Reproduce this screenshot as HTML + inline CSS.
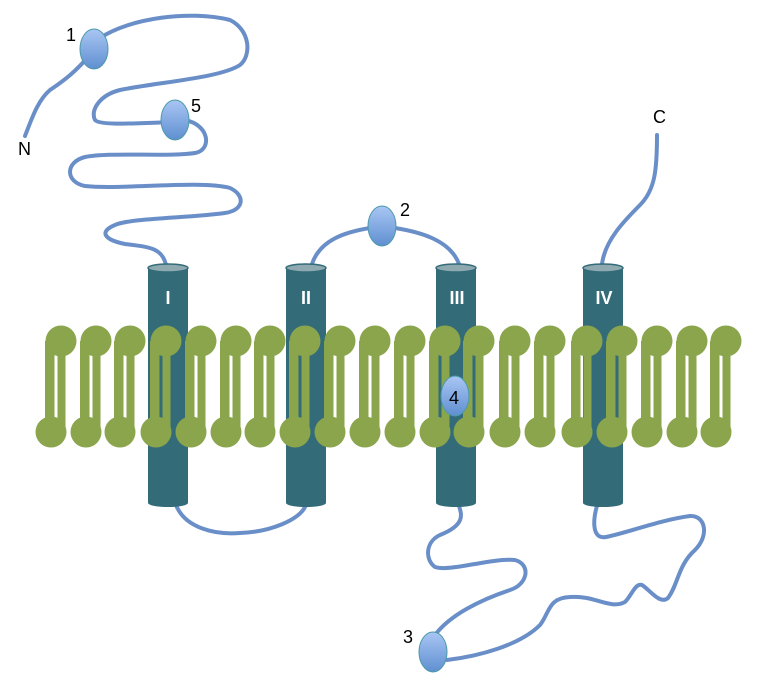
<!DOCTYPE html>
<html><head><meta charset="utf-8"><style>
body{margin:0;background:#fff}
svg{display:block}
text{font-family:"Liberation Sans",sans-serif}
</style></head><body>
<svg width="761" height="682" viewBox="0 0 761 682" xmlns="http://www.w3.org/2000/svg">
<defs>
<linearGradient id="ov" x1="0" y1="0" x2="0" y2="1">
<stop offset="0" stop-color="#a9c6f4"/><stop offset="1" stop-color="#5f8fd0"/>
</linearGradient>
</defs>
<g fill="none" stroke="#6a8fc8" stroke-width="4" stroke-linecap="round">
<path d="M25,136 C32,118 38,100 50,90 C65,80 75,72 90,55"/>
<path d="M100,38 C130,18 190,10 230,20 C250,30 252,55 240,65 C220,78 160,82 120,90 C100,95 90,110 95,120 C100,126 140,123 175,122"/>
<path d="M185,120 C210,125 212,150 195,153 C170,157 110,152 85,157 C65,162 65,182 85,186 C120,190 200,180 230,188 C245,195 245,210 225,213 C190,218 130,218 115,225 C98,232 105,240 125,244 C150,247 162,248 166,265"/>
<path d="M176,505 C185,528 215,535 240,533 C270,532 300,520 306,505"/>
<path d="M312,264 C320,240 345,232 370,228"/>
<path d="M395,228 C420,232 450,240 459,264"/>
<path d="M602,264 C605,240 625,220 640,205 C655,190 657,170 657,135"/>
<path d="M459,506 C462,515 465,525 440,535 C425,542 425,560 435,567 C450,572 490,558 515,560 C532,565 527,585 510,590 C480,600 450,615 435,635"/>
<path d="M447,660 C480,656 520,645 540,625 C550,612 548,598 570,597 C595,595 610,610 625,602 C632,595 635,583 642,585 C650,590 660,605 668,598 C678,585 678,565 695,550 C710,535 705,515 690,516 C660,520 630,532 606,537 C590,540 594,515 597,506"/>
</g>
<g>
<g fill="#336b78">
<rect x="148" y="268" width="40" height="235"/><ellipse cx="168" cy="503" rx="20" ry="4"/>
<rect x="286" y="268" width="40" height="235"/><ellipse cx="306" cy="503" rx="20" ry="4"/>
<rect x="436" y="268" width="40" height="235"/><ellipse cx="456" cy="503" rx="20" ry="4"/>
<rect x="583" y="268" width="40" height="235"/><ellipse cx="603" cy="503" rx="20" ry="4"/>
</g>
<g fill="#8fa9b0" stroke="#336b78" stroke-width="1.5">
<ellipse cx="168" cy="268" rx="20" ry="4"/>
<ellipse cx="306" cy="268" rx="20" ry="4"/>
<ellipse cx="456" cy="268" rx="20" ry="4"/>
<ellipse cx="603" cy="268" rx="20" ry="4"/>
</g>
<g fill="#fff" font-weight="bold" font-size="18" text-anchor="middle">
<text x="168" y="304">I</text><text x="306" y="304">II</text>
<text x="457" y="304">III</text><text x="604" y="304">IV</text>
</g>
</g>
<g fill="#8aa54c" id="lip">
<g id="l1"><circle cx="61" cy="341" r="15.5"/><circle cx="51" cy="432" r="15.5"/><rect x="45" y="341" width="9.5" height="91"/><rect x="57.5" y="341" width="8" height="91"/></g>
</g>
<g fill="#8aa54c">
<use href="#l1" x="35"/><use href="#l1" x="69"/><use href="#l1" x="105"/><use href="#l1" x="140"/>
<use href="#l1" x="175"/><use href="#l1" x="209"/><use href="#l1" x="244"/><use href="#l1" x="279"/>
<use href="#l1" x="314"/><use href="#l1" x="349"/><use href="#l1" x="384"/><use href="#l1" x="418"/>
<use href="#l1" x="454"/><use href="#l1" x="489"/><use href="#l1" x="526"/><use href="#l1" x="561"/>
<use href="#l1" x="596"/><use href="#l1" x="631"/><use href="#l1" x="665"/>
</g>
<g fill="url(#ov)" stroke="#4a9aa8" stroke-width="1">
<ellipse cx="94" cy="49" rx="14" ry="20"/>
<ellipse cx="175" cy="120" rx="14" ry="20"/>
<ellipse cx="382" cy="226" rx="14" ry="20"/>
<ellipse cx="455" cy="396" rx="14" ry="20"/>
<ellipse cx="433" cy="652" rx="14" ry="20"/>
</g>
<g fill="#000" font-size="18">
<text x="66" y="41">1</text><text x="191" y="112">5</text>
<text x="18" y="155">N</text><text x="400" y="216">2</text>
<text x="403" y="643">3</text><text x="449" y="404">4</text>
<text x="653" y="123">C</text>
</g>
</svg>
</body></html>
